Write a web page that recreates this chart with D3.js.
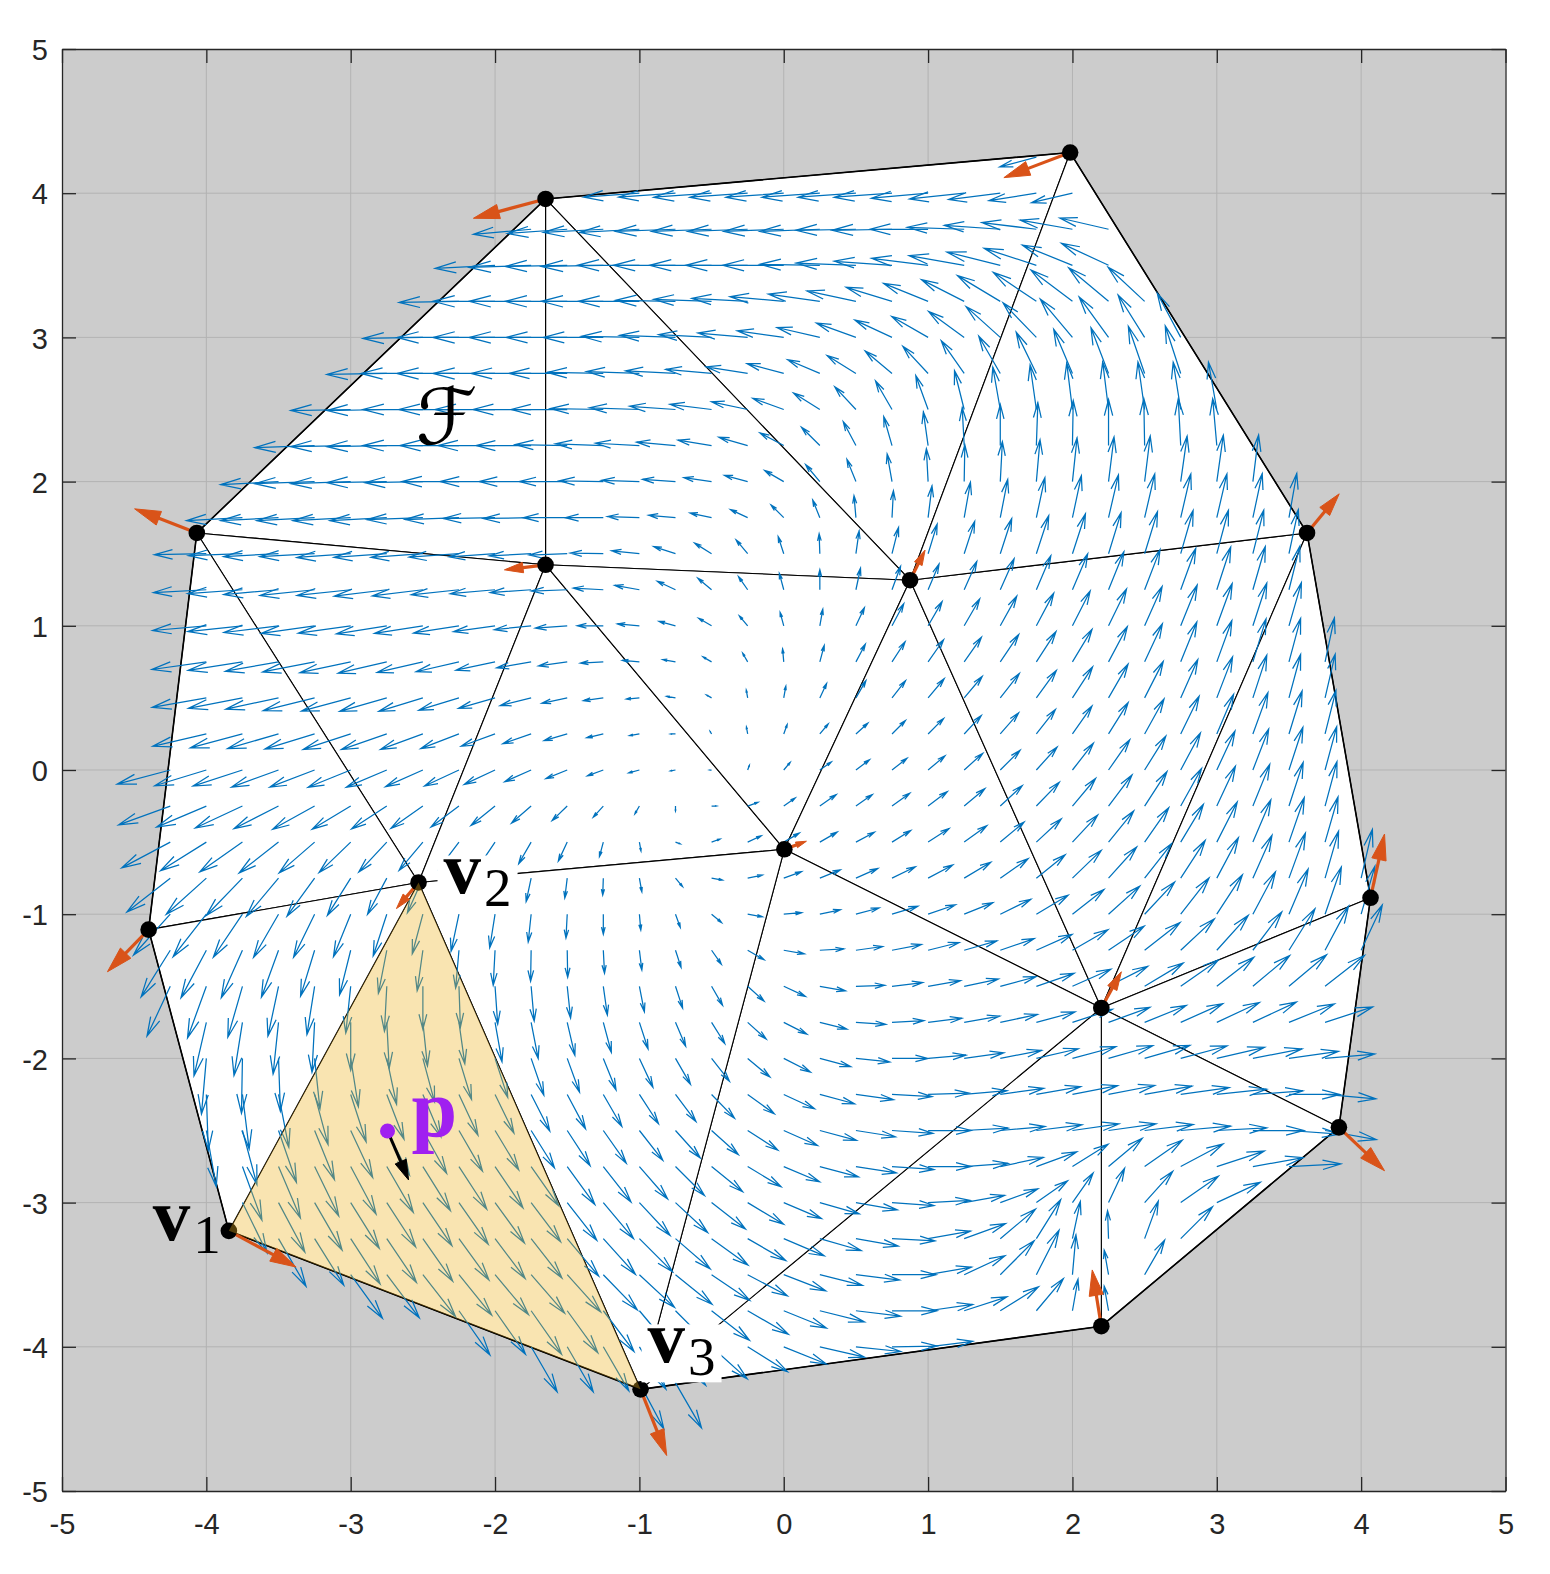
<!DOCTYPE html>
<html><head><meta charset="utf-8">
<script src="https://cdn.jsdelivr.net/npm/d3@7"></script>
<style>body{margin:0;background:#fff}</style>
</head><body>
<svg id="c" width="1550" height="1574"></svg>
<script>
// ---------- data ----------
const tickValues = [-5,-4,-3,-2,-1,0,1,2,3,4,5];

// mesh vertices (axis units)
const vertX = [1.984,-1.650,-4.066,-1.650,0.875,3.625,0.004,-2.530,-4.400,4.065,2.200,3.846,-3.844,2.200,-0.992];
const vertY = [4.282,3.960,1.644,1.423,1.316,1.644,-0.550,-0.780,-1.107,-0.886,-1.650,-2.478,-3.196,-3.857,-4.295];
// vector field sampled at the vertices (orange arrows)
const vertU = [-0.459,-0.500,-0.431,-0.285,0.104,0.223,0.153,-0.153,-0.285,0.097,0.139,0.316,0.466,-0.063,0.181];
const vertV = [-0.174,-0.134,0.167,-0.035,0.209,0.271,0.056,-0.181,-0.292,0.442,0.251,-0.301,-0.251,0.390,-0.459];
// triangles (vertex indices)
const triangles = [[1,0,4],[1,4,3],[1,3,2],[2,3,7],[2,7,8],[3,7,6],[3,6,4],[4,6,10],[4,10,5],[0,5,4],
  [5,10,9],[9,10,11],[10,11,13],[10,13,14],[6,10,14],[6,14,7],[7,14,12],[7,12,8]];
const boundary = [1,0,5,9,11,13,14,12,8,2];
const highlightTri = [12,7,14];
const vertLabels = [{i:12,t:"1"},{i:7,t:"2"},{i:14,t:"3"}];
const pointP = [-2.745,-2.503];
const vectorP = [0.146,-0.340];

// blue quiver field: rows of samples (angle in degrees, magnitude)
const qStep = 0.25;
const qRowY  = [4.25,4,3.75,3.5,3.25,3,2.75,2.5,2.25,2,1.75,1.5,1.25,1,0.75,0.5,0.25,0,-0.25,-0.5,-0.75,-1,-1.25,-1.5,-1.75,-2,-2.25,-2.5,-2.75,-3,-3.25,-3.5,-3.75,-4,-4.25];
const qRowX0 = [1.75,-1,-1.75,-2,-2.25,-2.5,-2.75,-3,-3.25,-3.5,-3.75,-4,-4,-4,-4,-4,-4,-4.25,-4.25,-4.25,-4.25,-4.25,-4.25,-4.25,-4,-4,-4,-4,-3.75,-3.75,-3.5,-3,-2.25,-1.75,-1];
const qAngle = [
 [195],
 [184,184,184,184,184,184,184,184,185,186,187,189,193],
 [185,184,183,183,182,182,182,182,182,181,181,180,178,176,173,170,167],
 [183,182,181,181,180,180,180,180,180,179,178,176,173,170,166,162,158,155],
 [181,180,180,180,180,180,179,178,177,175,172,168,163,158,153,149,146,143,140,137],
 [181,180,180,180,180,180,179,178,177,175,172,167,160,155,150,144,138,134,130,126,122,118],
 [181,180,180,180,180,180,179,178,177,175,171,165,157,148,140,133,125,120,116,113,111,109,108],
 [181,181,180,180,180,180,180,179,178,176,173,168,160,148,133,120,110,104,100,98,97,97,98,99,100],
 [182,181,181,180,180,180,180,179,178,177,175,171,164,152,135,118,106,98,93,90,88,89,90,91,93,95],
 [183,182,182,181,181,180,180,180,180,179,178,176,172,165,150,130,112,100,93,89,87,85,84,83,83,82,82,83],
 [183,183,183,183,183,182,182,181,181,180,180,178,175,168,155,135,112,95,87,83,80,79,78,78,77,77,77,77,78,80],
 [181,182,183,183,184,184,184,184,184,183,182,179,174,162,148,130,108,92,82,76,73,72,72,72,72,73,73,74,75,76,78],
 [183,184,185,186,186,187,187,186,185,184,182,177,170,155,140,125,105,90,78,70,67,66,66,67,67,68,69,70,72,74,76],
 [185,186,187,188,188,189,189,189,188,186,184,180,175,165,150,130,105,80,65,62,60,60,61,62,63,64,66,68,70,72,74],
 [188,189,190,191,192,193,193,193,192,190,188,183,175,170,150,120,95,75,62,57,55,55,56,57,59,62,65,68,70,73,75,78],
 [190,191,192,194,195,196,197,197,196,194,192,188,185,170,150,100,80,65,60,52,50,50,52,54,57,60,63,66,69,72,75,77],
 [193,195,196,197,198,199,200,201,200,199,196,193,190,180,120,100,70,50,42,45,45,47,49,52,55,58,61,64,67,70,73,76],
 [195,197,198,200,201,202,203,204,205,205,204,202,200,195,190,180,70,50,35,37,38,40,42,45,48,52,55,58,62,65,69,72,75],
 [200,203,205,207,209,211,213,215,217,219,221,224,228,240,270,0,20,35,35,35,36,37,40,43,46,50,53,57,61,65,68,72,75],
 [208,212,215,218,221,224,227,230,233,236,240,245,255,280,340,20,25,30,30,28,32,33,36,40,43,47,51,55,59,63,67,71,74],
 [218,222,226,230,234,238,242,246,250,254,258,263,268,280,310,350,12,20,22,24,26,28,31,35,39,44,48,52,57,62,66,70,74,77],
 [228,232,236,240,244,248,252,255,258,261,264,267,270,275,290,320,350,5,12,15,17,19,22,26,31,38,42,47,52,57,62,67,71,74],
 [238,242,246,250,253,256,259,262,265,267,269,271,273,277,288,305,330,350,3,8,11,14,16,19,24,30,34,38,43,48,53,58,62,65],
 [245,250,254,258,261,264,267,270,272,274,275,276,278,281,288,300,318,335,350,2,7,10,12,15,19,24,27,31,35,38,40,40,38],
 [257,261,264,267,270,273,276,278,280,281,283,285,288,293,302,318,333,346,356,3,7,10,12,15,18,20,22,24,25,25,22,18],
 [265,269,272,276,279,282,285,287,288,289,290,292,295,300,308,320,333,345,354,0,5,8,11,13,15,16,16,15,13,11,8,5],
 [272,277,281,285,288,291,293,295,296,297,298,300,303,307,314,324,335,345,352,357,2,5,8,10,11,11,10,8,6,4,0,355],
 [280,285,289,292,295,297,299,300,301,302,303,305,308,312,318,327,336,345,351,356,0,3,5,7,8,8,7,5,3,0,356,350],
 [290,293,296,298,300,302,303,304,305,306,308,311,315,321,329,337,345,351,356,0,4,12,20,32,40,35,28,18,10,3],
 [296,298,300,302,303,304,305,306,307,308,310,313,317,322,329,337,344,350,356,3,10,20,35,55,65,48,35,25],
 [300,302,303,304,305,306,307,308,310,312,315,319,324,330,337,344,350,357,10,20,40,58,78,92,70,45],
 [306,307,308,309,310,311,312,314,317,321,326,332,339,346,353,0,10,25,45,63,85,100,60],
 [305,305,305,306,307,310,315,322,330,338,346,353,0,8,18,32,50,80,100],
 [300,300,300,302,308,318,328,338,347,354,1,7],
 [298,300]
];
const qMag = [
 [38],
 [56,57,58,58,58,58,58,58,57,55,52,48,42],
 [58,60,60,60,60,60,60,60,60,60,60,58,57,56,55,53,50],
 [60,62,62,62,62,62,62,62,61,60,60,58,57,56,55,55,54,52],
 [60,62,62,62,62,61,60,58,56,54,52,50,48,48,48,50,52,52,52,50],
 [60,62,62,62,61,60,58,56,53,50,47,44,42,41,42,44,46,48,50,50,50,50],
 [60,62,62,62,60,58,56,53,50,46,42,38,35,34,35,37,40,43,46,48,49,50,50],
 [60,60,60,60,60,58,56,53,50,46,42,37,33,31,31,33,36,40,43,45,47,48,48,48,48],
 [60,60,60,60,59,57,55,52,48,44,39,34,30,27,26,27,30,34,38,41,43,45,46,47,47,47],
 [58,60,60,60,58,57,55,52,48,44,38,33,28,24,22,22,24,28,33,37,40,42,44,45,46,46,47,47],
 [56,58,58,58,57,56,54,52,48,44,38,32,27,22,19,18,19,22,27,32,36,39,41,43,44,45,45,45,45,45],
 [52,54,55,55,54,53,52,50,46,42,38,33,28,23,20,18,18,20,23,27,31,34,37,40,42,43,44,45,45,45,45],
 [53,55,55,55,54,53,51,48,45,41,36,30,25,20,18,16,17,20,22,25,28,31,34,37,39,41,43,44,45,45,45],
 [54,55,55,54,53,51,49,46,42,37,32,26,22,17,15,13,14,17,20,25,28,31,34,37,39,41,43,44,45,45,45],
 [55,55,54,53,52,50,47,44,40,35,29,23,17,13,10,10,13,17,20,24,27,30,33,36,38,40,42,43,44,45,45,45],
 [55,55,54,53,51,49,46,42,38,32,26,20,13,9,6,8,12,16,20,22,25,28,31,34,37,39,41,42,44,45,45,45],
 [55,54,53,52,50,48,45,41,36,30,24,17,10,5,3,7,10,13,16,19,22,25,28,31,34,37,40,42,43,44,45,45],
 [55,54,52,50,48,46,44,41,38,34,29,23,17,11,5,2,5,10,14,17,19,22,25,28,31,34,37,40,42,43,44,45,45],
 [55,54,52,50,48,45,42,39,35,31,26,21,15,9,5,5,11,14,20,20,22,24,27,30,33,36,39,41,43,44,45,46,46],
 [55,54,52,50,47,44,41,37,33,29,25,21,15,9,5,9,15,18,20,21,22,25,28,31,34,37,40,42,44,45,46,47,47],
 [55,54,52,50,47,44,41,38,35,32,24,20,17,14,11,11,15,19,22,24,26,28,31,34,37,40,42,44,45,46,47,48,49,50],
 [55,54,52,50,48,46,44,41,38,34,28,24,20,16,14,13,15,18,21,24,27,29,31,34,37,40,42,44,46,47,48,49,50,50],
 [55,54,52,50,48,46,44,41,38,35,31,27,23,20,18,17,19,21,24,27,30,32,34,36,39,41,43,45,46,47,48,49,50,50],
 [55,55,53,51,49,47,45,43,41,38,35,32,29,26,23,22,22,24,26,29,31,33,35,37,40,42,44,45,46,47,48,49,50],
 [55,54,52,50,48,46,44,42,40,37,34,31,28,26,25,25,26,28,30,32,34,36,38,40,42,44,45,46,47,48,49,50],
 [56,55,53,51,49,47,45,43,41,39,36,34,32,30,29,29,30,32,34,36,38,40,42,43,45,46,47,48,49,50,50,50],
 [56,55,54,52,50,48,46,45,43,41,39,37,35,34,33,33,34,36,38,40,41,43,44,45,46,47,48,49,50,50,51,51],
 [57,56,55,53,52,50,49,47,46,44,42,40,38,37,36,36,37,38,40,41,43,44,45,46,47,48,49,50,50,51,51,52],
 [57,56,55,54,53,52,51,50,48,47,45,43,41,40,39,39,40,41,42,43,44,44,43,42,44,46,48,50,51,52],
 [56,56,55,54,53,52,51,50,49,48,47,45,44,43,42,41,41,42,42,42,41,40,38,36,38,42,46,48],
 [55,55,54,53,52,51,50,50,49,48,47,46,45,44,44,43,43,43,43,44,46,46,38,28,40,45],
 [54,54,53,52,52,51,50,49,48,47,46,45,45,44,44,44,44,45,48,50,40,25,40],
 [54,53,53,52,51,50,49,48,47,46,46,45,45,45,45,45,42,32,25],
 [52,52,51,50,49,48,47,46,46,45,45,45],
 [52,52]
];

// ---------- drawing ----------
const svg = d3.select("#c");
const x = d3.scaleLinear().domain([-5,5]).range([62,1505.5]);
const y = d3.scaleLinear().domain([-5,5]).range([1491,49]);
const ppu = x(1)-x(0);
const quiverScale = 1/ppu;   // axis units per magnitude unit

svg.append("rect").attr("x",x(-5)).attr("y",y(5))
  .attr("width",x(5)-x(-5)).attr("height",y(-5)-y(5)).attr("fill","#cccccc");

const grid = svg.append("g").attr("stroke","#b3b3b3").attr("stroke-width",1);
grid.selectAll("line.gx").data(tickValues.slice(1,-1)).join("line")
  .attr("x1",d=>x(d)).attr("x2",d=>x(d)).attr("y1",y(-5)).attr("y2",y(5));
grid.selectAll("line.gy").data(tickValues.slice(1,-1)).join("line")
  .attr("y1",d=>y(d)).attr("y2",d=>y(d)).attr("x1",x(-5)).attr("x2",x(5));

const P = vertX.map((vx,i)=>[x(vx),y(vertY[i])]);
svg.append("g").selectAll("path").data(triangles).join("path")
  .attr("d",t=>"M"+t.map(i=>P[i].join(",")).join("L")+"Z")
  .attr("fill","#fff").attr("stroke","#000").attr("stroke-width",1.1)
  .attr("stroke-linejoin","round");
svg.append("path").attr("d","M"+boundary.map(i=>P[i].join(",")).join("L")+"Z")
  .attr("fill","none").attr("stroke","#000").attr("stroke-width",1.6);

function openArrow(x0,y0,x1,y1,al,be){
  const dx=x1-x0, dy=y1-y0;
  const b1x=x1-al*(dx+be*dy), b1y=y1-al*(dy-be*dx);
  const b2x=x1-al*(dx-be*dy), b2y=y1-al*(dy+be*dx);
  return `M${x0},${y0}L${x1},${y1}M${b1x},${b1y}L${x1},${y1}L${b2x},${b2y}`;
}
function solidArrow(g,x0,y0,x1,y1,color,w,hl,hw){
  const dx=x1-x0, dy=y1-y0, L=Math.hypot(dx,dy)||1;
  const ux=dx/L, uy=dy/L;
  const h=Math.min(hl,L*0.45), bx=x1-ux*h, by=y1-uy*h;
  g.append("line").attr("x1",x0).attr("y1",y0).attr("x2",bx+ux*2).attr("y2",by+uy*2)
    .attr("stroke",color).attr("stroke-width",w);
  const hwid=h*hw;
  g.append("path").attr("d",`M${x1},${y1}L${bx-uy*hwid},${by+ux*hwid}L${bx+uy*hwid},${by-ux*hwid}Z`)
    .attr("fill",color).attr("stroke",color).attr("stroke-width",1).attr("stroke-linejoin","miter");
}

// blue quiver
const qData = [];
qRowY.forEach((yy,r)=>qAngle[r].forEach((a,j)=>qData.push({x:qRowX0[r]+j*qStep,y:yy,a,m:qMag[r][j]})));
svg.append("g").selectAll("path").data(qData).join("path")
  .attr("d",d=>{
    const r=d.a*Math.PI/180, L=d.m*quiverScale;
    return openArrow(x(d.x),y(d.y),x(d.x+L*Math.cos(r)),y(d.y+L*Math.sin(r)),0.35,0.26);
  })
  .attr("fill","none").attr("stroke","#0072BD").attr("stroke-width",1.25);

// orange vertex arrows
const og = svg.append("g");
vertX.forEach((vx,i)=>{
  solidArrow(og,x(vx),y(vertY[i]),x(vx+vertU[i]),y(vertY[i]+vertV[i]),"#D95319",3.2,26,0.28);
});
// vertex dots
svg.append("g").selectAll("circle").data(vertX).join("circle")
  .attr("cx",(d,i)=>x(d)).attr("cy",(d,i)=>y(vertY[i])).attr("r",8.3).attr("fill","#000");

// highlighted triangle
svg.append("path").attr("d","M"+highlightTri.map(i=>P[i].join(",")).join("L")+"Z")
  .attr("fill","#EDB120").attr("fill-opacity",0.35).attr("stroke","none");

// point p
const pg = svg.append("g");
solidArrow(pg,x(pointP[0]),y(pointP[1]),x(pointP[0]+vectorP[0]),y(pointP[1]+vectorP[1]),"#000",3,20,0.3);
pg.append("circle").attr("cx",x(pointP[0])).attr("cy",y(pointP[1])).attr("r",7.5).attr("fill","#A020F0");
pg.append("text").attr("x",x(pointP[0])+24).attr("y",y(pointP[1])+5)
  .attr("font-family","'Liberation Serif','DejaVu Serif',serif").attr("font-weight","bold")
  .attr("font-size",82).attr("fill","#A020F0").text("p");

// vertex labels
const labelPos = {12:[-76,9,false],7:[25,11,true],14:[7,-27,true]};
vertLabels.forEach(l=>{
  const [ox,oy,bg]=labelPos[l.i];
  const lx=P[l.i][0]+ox, ly=P[l.i][1]+oy;
  if(bg) svg.append("rect").attr("x",lx-6).attr("y",ly-38).attr("width",80).attr("height",58).attr("fill","#fff");
  const t = svg.append("text").attr("x",lx).attr("y",ly)
    .attr("font-family","'Liberation Serif','DejaVu Serif',serif").attr("fill","#000");
  t.append("tspan").attr("font-weight","bold").attr("font-size",75).text("v");
  t.append("tspan").attr("font-size",55).attr("dx",3).attr("dy",13).text(l.t);
});

// field label
svg.append("text").attr("x",x(-2.55)).attr("y",y(2.26))
  .attr("font-family","'DejaVu Serif','DejaVu Sans',serif").attr("font-size",78).attr("fill","#000").text("\u2131");

// axes
const ax = svg.append("g").attr("font-family","'Liberation Sans',Arial,sans-serif");
const fmt = d=>String(d);
ax.append("g").attr("transform",`translate(0,${y(-5)})`)
  .call(d3.axisBottom(x).tickValues(tickValues).tickSizeInner(-14).tickSizeOuter(0).tickPadding(22).tickFormat(fmt));
ax.append("g").attr("transform",`translate(0,${y(5)})`)
  .call(d3.axisTop(x).tickValues(tickValues).tickSizeInner(-14).tickSizeOuter(0).tickFormat(""));
const yl = ax.append("g").attr("transform",`translate(${x(-5)},0)`)
  .call(d3.axisLeft(y).tickValues(tickValues).tickSizeInner(-14).tickSizeOuter(0).tickPadding(14).tickFormat(fmt));
ax.append("g").attr("transform",`translate(${x(5)},0)`)
  .call(d3.axisRight(y).tickValues(tickValues).tickSizeInner(-14).tickSizeOuter(0).tickFormat(""));
ax.selectAll("path.domain").attr("stroke","#262626").attr("stroke-width",1.3);
ax.selectAll(".tick line").attr("stroke","#262626").attr("stroke-width",1.3);
ax.selectAll(".tick text").attr("fill","#262626").attr("font-size",29);
yl.selectAll(".tick text").attr("dy","0.37em");
</script>
</body></html>
